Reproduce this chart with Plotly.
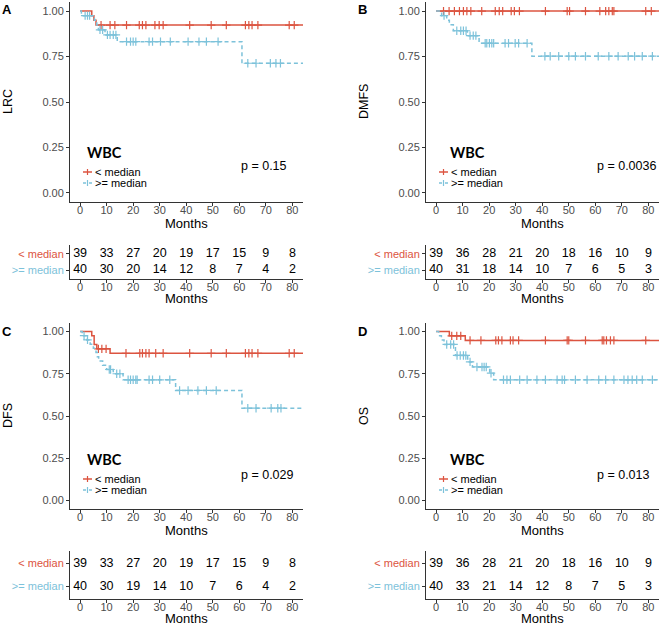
import plotly.graph_objects as go

# ---------- data
months_ticks = [0, 10, 20, 30, 40, 50, 60, 70, 80]
surv_ticks = [0, 0.25, 0.5, 0.75, 1.0]
surv_ticklabels = ["0.00", "0.25", "0.50", "0.75", "1.00"]
groups = ["< median", ">= median"]
end_time = 84

# A - LRC
a_lo_t = [0, 4.4, 5.2, 6.0]
a_lo_s = [1.0, 0.974, 0.949, 0.923]
a_lo_c = [7.9, 11.3, 13.1, 17.5, 22.3, 23.5, 24.8, 28.2, 29.8, 31.3, 41.3, 49.4, 55.1,
          62.3, 63.6, 64.8, 67.0, 78.8, 80.7]
a_hi_t = [0, 0.5, 5.4, 6.3, 6.9, 9.4, 14.0, 61.0]
a_hi_s = [1.0, 0.975, 0.95, 0.924, 0.897, 0.869, 0.832, 0.713]
a_hi_c = [1.9, 2.8, 3.6, 7.5, 8.5, 10.3, 11.3, 12.5, 13.5, 17.5, 19.0, 20.0, 21.0, 26.0,
          27.3, 30.3, 34.0, 40.7, 44.8, 47.6, 52.0, 63.2, 66.3, 71.7, 73.8, 75.5]
a_risk_lo = [39, 33, 27, 20, 19, 17, 15, 9, 8]
a_risk_hi = [40, 30, 20, 14, 12, 8, 7, 4, 2]

# B - DMFS
b_lo_t = [0]
b_lo_s = [1.0]
b_lo_c = [2.8, 4.9, 6.9, 8.8, 10.3, 11.6, 13.1, 17.2, 22.3, 23.8, 25.1, 28.3, 29.5, 31.4,
          41.2, 49.4, 50.3, 56.3, 61.7, 63.9, 65.1, 66.4, 67.0, 79.0, 81.1]
b_hi_t = [0, 2.1, 4.0, 5.0, 6.5, 11.8, 16.2, 36.1]
b_hi_s = [1.0, 0.975, 0.95, 0.925, 0.892, 0.865, 0.823, 0.752]
b_hi_c = [3.0, 7.8, 9.3, 10.3, 11.3, 12.8, 14.0, 15.0, 18.5, 19.1, 20.1, 21.0, 21.7, 26.0,
          27.3, 29.8, 31.1, 34.3, 41.0, 43.0, 46.2, 50.0, 52.5, 56.3, 61.1, 65.1, 68.6,
          72.4, 74.8, 77.7, 81.5]
b_risk_lo = [39, 36, 28, 21, 20, 18, 16, 10, 9]
b_risk_hi = [40, 31, 18, 14, 10, 7, 6, 5, 3]

# C - DFS
c_lo_t = [0, 4.4, 5.3, 6.3, 11.3]
c_lo_s = [1.0, 0.974, 0.923, 0.897, 0.871]
c_lo_c = [6.9, 8.2, 9.8, 17.3, 22.5, 23.5, 24.8, 26.0, 28.5, 31.3, 41.3, 49.4, 55.1, 62.3,
          63.6, 64.8, 67.0, 78.8, 80.7]
c_hi_t = [0, 0.8, 2.5, 3.8, 5.0, 6.0, 6.5, 7.0, 8.5, 10.0, 12.5, 16.2, 36.0, 61.0]
c_hi_s = [1.0, 0.975, 0.95, 0.925, 0.90, 0.875, 0.85, 0.825, 0.80, 0.775, 0.75, 0.714,
          0.651, 0.546]
c_hi_c = [1.5, 2.8, 11.0, 11.5, 13.8, 15.0, 18.1, 19.0, 20.0, 21.0, 21.5, 26.0, 27.3, 30.0,
          33.8, 37.5, 40.7, 44.4, 47.6, 51.3, 63.2, 66.3, 72.0, 74.5, 75.7]
c_risk_lo = [39, 33, 27, 20, 19, 17, 15, 9, 8]
c_risk_hi = [40, 30, 19, 14, 10, 7, 6, 4, 2]

# D - OS
d_lo_t = [0, 5.0, 11.0]
d_lo_s = [1.0, 0.974, 0.947]
d_lo_c = [5.9, 7.8, 9.3, 12.8, 16.9, 22.5, 23.5, 24.8, 28.0, 29.0, 31.1, 41.2, 49.4, 50.0,
          56.3, 62.6, 63.2, 64.2, 65.7, 67.0, 79.0]
d_hi_t = [0, 1.0, 2.0, 3.0, 7.3, 11.9, 13.7, 20.2, 21.7]
d_hi_s = [1.0, 0.975, 0.95, 0.923, 0.858, 0.82, 0.79, 0.753, 0.714]
d_hi_c = [4.0, 5.5, 6.6, 7.9, 9.1, 10.3, 11.2, 12.8, 15.4, 17.3, 18.1, 18.9, 20.7, 25.4,
          26.7, 28.0, 31.5, 34.3, 38.0, 41.2, 45.6, 47.5, 48.4, 52.5, 56.9, 61.3, 63.9,
          67.0, 70.8, 72.3, 73.9, 75.6, 77.7, 81.5]
d_risk_lo = [39, 36, 28, 21, 20, 18, 16, 10, 9]
d_risk_hi = [40, 33, 21, 14, 12, 8, 7, 5, 3]

# ---------- styling
RED = "#DC5440"
BLUE = "#7DC2DA"
AX = "#333333"
TICKC = "#4D4D4D"
FONT = "Liberation Sans, Arial, sans-serif"
W, H = 661, 626


def px_x(p):
    return p / W


def px_y(p):
    return 1 - p / H


panels = [
    dict(letter="A", ytitle="LRC", p="p = 0.15",
         lo=(a_lo_t, a_lo_s, a_lo_c), hi=(a_hi_t, a_hi_s, a_hi_c),
         risk=(a_risk_lo, a_risk_hi), col=0, row=0),
    dict(letter="B", ytitle="DMFS", p="p = 0.0036",
         lo=(b_lo_t, b_lo_s, b_lo_c), hi=(b_hi_t, b_hi_s, b_hi_c),
         risk=(b_risk_lo, b_risk_hi), col=1, row=0),
    dict(letter="C", ytitle="DFS", p="p = 0.029",
         lo=(c_lo_t, c_lo_s, c_lo_c), hi=(c_hi_t, c_hi_s, c_hi_c),
         risk=(c_risk_lo, c_risk_hi), col=0, row=1),
    dict(letter="D", ytitle="OS", p="p = 0.013",
         lo=(d_lo_t, d_lo_s, d_lo_c), hi=(d_hi_t, d_hi_s, d_hi_c),
         risk=(d_risk_lo, d_risk_hi), col=1, row=1),
]

# pixel boxes of each block
col_x = [(70, 303), (426, 659)]
row_plot = [(2, 202), (323, 509)]
row_table = [(245, 279), (551, 599)]
wbc_dx = [15, 22]


def km_steps(t, s):
    return t + [end_time], s + [s[-1]]


def surv_at(t, s, x):
    val = s[0]
    for ti, si in zip(t, s):
        if ti <= x:
            val = si
    return val


fig = go.Figure()
annotations = []
shapes = []

for i, pn in enumerate(panels):
    k = 2 * i + 1
    xa, ya = "x%d" % k, "y%d" % k
    xt, yt = "x%d" % (k + 1), "y%d" % (k + 1)
    x0, x1 = col_x[pn["col"]]
    py0, py1 = row_plot[pn["row"]]
    ty0, ty1 = row_table[pn["row"]]

    # --- survival curves
    for grp, (t, s, c), color, dash in [(groups[0], pn["lo"], RED, "solid"),
                                        (groups[1], pn["hi"], BLUE, "4px,3px")]:
        sx, sy = km_steps(t, s)
        fig.add_trace(go.Scatter(
            x=sx, y=sy, mode="lines", line=dict(color=color, width=1.5, dash=dash, shape="hv"),
            xaxis=xa, yaxis=ya, showlegend=False, hoverinfo="skip"))
        fig.add_trace(go.Scatter(
            x=c, y=[surv_at(t, s, v) for v in c], mode="markers",
            marker=dict(symbol="cross-thin", size=6, line=dict(color=color, width=1.2)),
            xaxis=xa, yaxis=ya, showlegend=False, hoverinfo="skip"))

    # --- risk table
    for vals, yv in [(pn["risk"][0], 2), (pn["risk"][1], 1)]:
        fig.add_trace(go.Scatter(
            x=months_ticks, y=[yv] * len(vals), mode="text", text=[str(v) for v in vals],
            textfont=dict(family=FONT, size=12.5, color="black"),
            xaxis=xt, yaxis=yt, showlegend=False, hoverinfo="skip"))

    common_x = dict(range=[-3.8, 84], tickvals=months_ticks, showline=True, linecolor=AX,
                    linewidth=1, ticks="outside", ticklen=3, tickcolor=AX, showgrid=False,
                    zeroline=False, ticklabelstandoff=-5, ticklabeloverflow="allow",
                    tickfont=dict(family=FONT, size=11, color=TICKC))
    common_y = dict(showline=True, linecolor=AX, linewidth=1, ticks="outside", ticklen=3,
                    tickcolor=AX, showgrid=False, zeroline=False, ticklabeloverflow="allow")

    fig.update_layout({
        "xaxis%d" % k if k > 1 else "xaxis": dict(
            common_x, domain=[px_x(x0), px_x(x1)], anchor=ya),
        "yaxis%d" % k if k > 1 else "yaxis": dict(
            common_y, domain=[px_y(py1), px_y(py0)], anchor=xa, range=[-0.05, 1.05],
            tickvals=surv_ticks, ticktext=surv_ticklabels,
            tickfont=dict(family=FONT, size=11, color=TICKC)),
        "xaxis%d" % (k + 1): dict(
            common_x, domain=[px_x(x0), px_x(x1)], anchor=yt),
        "yaxis%d" % (k + 1): dict(
            common_y, domain=[px_y(ty1), px_y(ty0)], anchor=xt, range=[0.45, 2.55],
            tickvals=[2, 1],
            ticktext=["<span style='color:%s'>%s</span>" % (RED, groups[0].replace("<", "&lt;")),
                      "<span style='color:%s'>%s</span>" % (BLUE, groups[1].replace(">", "&gt;"))],
            tickfont=dict(family=FONT, size=11)),
    })

    # "Months" titles under the plot and under the table
    for yb, dy in ((py1, 21), (ty1, 19.5)):
        annotations.append(dict(text="Months", x=px_x((x0 + x1) / 2), y=px_y(yb + dy),
                                xref="paper", yref="paper", showarrow=False,
                                xanchor="center", yanchor="middle",
                                font=dict(family=FONT, size=13, color="black")))

    # legend drawn by hand (ggplot style: short keys, tight rows)
    annotations.append(dict(text="<b>WBC</b>", x=px_x(x0 + wbc_dx[pn["col"]]), y=px_y(py1 - 50),
                            xref="paper", yref="paper", showarrow=False, xanchor="left",
                            yanchor="middle",
                            font=dict(family="Lato, Open Sans, sans-serif", size=14.5,
                                      color="black")))
    for grp, color, dash, dy in [(groups[0], RED, "solid", 30), (groups[1], BLUE, "dot", 19)]:
        ky = px_y(py1 - dy)
        shapes.append(dict(type="line", xref="paper", yref="paper",
                           x0=px_x(x0 + 13), x1=px_x(x0 + 22), y0=ky, y1=ky,
                           line=dict(color=color, width=1.5, dash=dash)))
        shapes.append(dict(type="line", xref="paper", yref="paper",
                           x0=px_x(x0 + 17.5), x1=px_x(x0 + 17.5),
                           y0=px_y(py1 - dy - 3), y1=px_y(py1 - dy + 3),
                           line=dict(color=color, width=1.2)))
        annotations.append(dict(text=grp.replace("<", "&lt;").replace(">", "&gt;"),
                                x=px_x(x0 + 23), y=ky, xref="paper", yref="paper",
                                showarrow=False, xanchor="left", yanchor="middle",
                                font=dict(family=FONT, size=11, color="black")))

    # panel letter, y title, p value
    annotations.append(dict(text="<b>%s</b>" % pn["letter"], x=px_x(x0 - 63.5), y=px_y(py0 + 8),
                            xref="paper", yref="paper", showarrow=False, xanchor="center",
                            yanchor="middle", font=dict(family=FONT, size=13, color="black")))
    annotations.append(dict(text=pn["ytitle"], x=px_x(x0 - 62), y=px_y((py0 + py1) / 2),
                            xref="paper", yref="paper", showarrow=False, textangle=-90,
                            xanchor="center", yanchor="middle",
                            font=dict(family=FONT, size=12.5, color="black")))
    annotations.append(dict(text=pn["p"], x=60, y=0.15, xref=xa, yref=ya,
                            showarrow=False, xanchor="left", yanchor="middle",
                            font=dict(family=FONT, size=12.5, color="black")))

fig.update_layout(width=W, height=H, margin=dict(l=0, r=0, t=0, b=0),
                  paper_bgcolor="white", plot_bgcolor="white",
                  annotations=annotations, shapes=shapes, showlegend=False)

# drop the page's default body margin so the figure fills the window exactly
fig.write_html("out.html", config={"displayModeBar": False},
               post_script="document.body.style.margin='0';"
                           "document.body.style.overflow='hidden';")
